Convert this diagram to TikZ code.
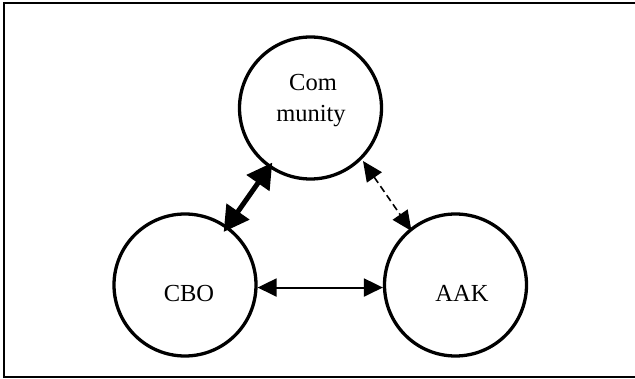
\documentclass[tikz,border=0pt]{standalone}
\usepackage{fontspec}
\setmainfont{Liberation Serif}
\usetikzlibrary{arrows.meta}
\begin{document}
\begin{tikzpicture}[x=1pt,y=-1pt,
  party/.style={circle,draw,line width=3.3pt,minimum size=142pt,inner sep=0pt},
  lbl/.style={font=\fontsize{24.5}{31}\selectfont,inner sep=0pt,align=center},
  strong/.style={line width=5pt,{Triangle[length=25pt,width=27pt]}-{Triangle[length=25pt,width=27pt]},shorten <=-6pt,shorten >=-7pt},
  normal/.style={line width=2pt,{Triangle[length=19pt,width=18pt]}-{Triangle[length=19pt,width=18pt]}},
  weak/.style={line width=1.6pt,dash pattern=on 7pt off 4pt,{Triangle[length=20pt,width=18pt]}-{Triangle[length=20pt,width=18pt]},shorten <=2pt,shorten >=-3pt}]
\useasboundingbox (0,0) rectangle (635,379);
\draw[line width=2pt] (3.5,3.5) rectangle (645,377.5);
\node[party] (comm) at (310.5,108) {};
\node[party] (cbo) at (185,285) {};
\node[party] (aak) at (455.5,285) {};
\node[lbl,anchor=base] (commtxt) at (313,90.7) {Com};
\node[lbl,anchor=base] (commtxt2) at (311,121.7) {munity};
\node[lbl,anchor=base] (cbotxt) at (189,301.7) {CBO};
\node[lbl,anchor=base] (aaktxt) at (462,301.7) {AAK};
\draw[strong] (comm.235) -- (cbo.54);
\draw[weak] (comm.315) -- (aak.129);
\draw[normal] (cbo.-2) -- (aak.182);
\end{tikzpicture}
\end{document}
